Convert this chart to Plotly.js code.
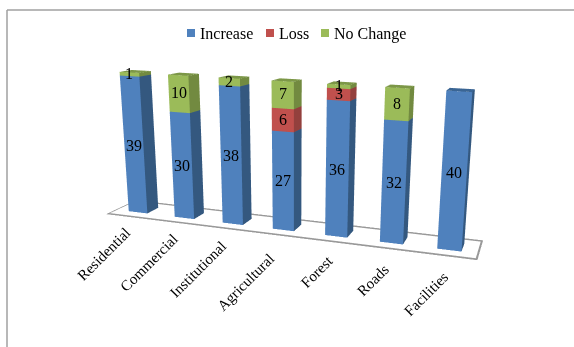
<!DOCTYPE html>
<html>
<head>
<meta charset="utf-8">
<script src="https://cdn.plot.ly/plotly-3.0.1.min.js"></script>
<style>
  html, body { margin: 0; padding: 0; width: 574px; height: 347px; overflow: hidden; background: #fff; }
  #chart { position: absolute; left: 0; top: -102px; width: 700px; height: 551px; }
</style>
</head>
<body>
<div id="chart"></div>
<script>
// Land-use change counts per category
const categories = ["Residential", "Commercial", "Institutional", "Agricultural", "Forest", "Roads", "Facilities"];
const increase = [39, 30, 38, 27, 36, 32, 40];
const loss = [0, 0, 0, 6, 3, 0, 0];
const noChange = [1, 10, 2, 7, 1, 8, 0];

const seriesNames = ["Increase", "Loss", "No Change"];
const frontColors = ["#4F81BD", "#C0504D", "#9BBB59"];
const sideColors = ["#34587F", "#93403D", "#728A40"];
const topColors = ["#3A6594", "#A5443F", "#7C9747"];

// The canvas overflows the window so the 3D view gets a narrow field of view and an off-centre axis
const CANVAS_W = 700, CANVAS_H = 551, CANVAS_TOP = -102;
const py = p => 1 - (p - CANVAS_TOP) / CANVAS_H;
const px = p => p / CANVAS_W;

const BAR_W = 0.41, BAR_D = 0.38;
const X_RANGE = [-0.5, 6.5], Y_RANGE = [-0.3, 0.68], Z_RANGE = [0, 40];
const SCALE = 0.3789;
const aspect = { x: 7 * SCALE, y: 0.98 * SCALE, z: 2.68 * SCALE };
const flatLight = { ambient: 1, diffuse: 0, specular: 0, roughness: 1, fresnel: 0 };

// One mesh per series: a box for every non-zero segment, stacked on the previous series
const stacks = [increase, loss, noChange];
const base = categories.map(() => 0);
const traces = [];
stacks.forEach((vals, s) => {
  const xs = [], ys = [], zs = [], I = [], J = [], K = [], fc = [];
  vals.forEach((v, c) => {
    if (v > 0) {
      const n = xs.length;
      const x0 = c - BAR_W / 2, x1 = c + BAR_W / 2, y0 = 0, y1 = BAR_D, z0 = base[c], z1 = base[c] + v;
      [[x0,y0,z0],[x1,y0,z0],[x1,y1,z0],[x0,y1,z0],[x0,y0,z1],[x1,y0,z1],[x1,y1,z1],[x0,y1,z1]].forEach(p => {
        xs.push(p[0]); ys.push(p[1]); zs.push(p[2]);
      });
      const quad = (a, b, cc, d, col) => {
        I.push(n + a, n + a); J.push(n + b, n + cc); K.push(n + cc, n + d); fc.push(col, col);
      };
      quad(0, 1, 5, 4, frontColors[s]);
      quad(1, 2, 6, 5, sideColors[s]);
      quad(4, 5, 6, 7, topColors[s]);
      base[c] += v;
    }
  });
  traces.push({
    type: "mesh3d", x: xs, y: ys, z: zs, i: I, j: J, k: K, facecolor: fc, flatshading: true,
    lighting: flatLight, hoverinfo: "skip", showlegend: false, showscale: false
  });
});

// Floor outline: four thin strips lying on the floor plane, inset from its edge
(function addFloor() {
  const [xa, xb] = X_RANGE, [ya, yb] = Y_RANGE;
  const tx = 0.035, ty = 0.08;
  const strips = [
    [xa, xb, ya, ya + ty], [xa, xb, yb - ty, yb],
    [xa, xa + tx, ya, yb], [xb - tx, xb, ya, yb]
  ];
  const xs = [], ys = [], zs = [], I = [], J = [], K = [], fc = [];
  strips.forEach(([x0, x1, y0, y1]) => {
    const n = xs.length;
    xs.push(x0, x1, x1, x0); ys.push(y0, y0, y1, y1); zs.push(0, 0, 0, 0);
    I.push(n, n); J.push(n + 1, n + 2); K.push(n + 2, n + 3); fc.push("#999999", "#999999");
  });
  traces.push({
    type: "mesh3d", x: xs, y: ys, z: zs, i: I, j: J, k: K, facecolor: fc, flatshading: true,
    lighting: flatLight, hoverinfo: "skip", showlegend: false, showscale: false
  });
})();

const serif = "'Liberation Serif', 'Times New Roman', serif";
const annotations = [];

// Value labels in the middle of each segment's front face
stacks.forEach((vals, s) => {
  vals.forEach((v, c) => {
    if (v > 0) {
      const below = stacks.slice(0, s).reduce((a, arr) => a + arr[c], 0);
      annotations.push({
        x: c, y: 0, z: below + v / 2, text: String(v), showarrow: false, yshift: 1,
        font: { family: serif, size: 16, color: "#000" }
      });
    }
  });
});

// Category labels, rotated and right-aligned towards the floor's front edge
const labelDrop = [0, 0, 0, 5, 0, 0, 0];
const labelSlide = [0, 0, 0, -4, 0, 0, 0];
const ctx = document.createElement("canvas").getContext("2d");
ctx.font = "15px 'Liberation Serif'";
categories.forEach((name, c) => {
  const half = ctx.measureText(name).width / 2 * Math.SQRT1_2;
  annotations.push({
    x: c, y: Y_RANGE[0], z: 0, text: name, showarrow: false, textangle: -45,
    xshift: -half - 1 + labelSlide[c], yshift: -half - 13 - 0.9 * c - labelDrop[c],
    font: { family: serif, size: 15, color: "#000" }
  });
});

// Legend row above the chart
const legendSwatchX = [187, 266, 321];
const legendShapes = seriesNames.map((name, s) => ({
  type: "rect", xref: "paper", yref: "paper", line: { width: 0 }, fillcolor: frontColors[s],
  x0: px(legendSwatchX[s]), x1: px(legendSwatchX[s] + 8), y0: py(29), y1: py(37)
}));
const legendLabels = seriesNames.map((name, s) => ({
  xref: "paper", yref: "paper", x: px(legendSwatchX[s] + 11), y: py(33.5), text: name,
  xanchor: "left", yanchor: "middle", showarrow: false,
  font: { family: serif, size: 16, color: "#000" }
}));

const hidden = { visible: false, showgrid: false, zeroline: false, showticklabels: false };
const layout = {
  width: CANVAS_W, height: CANVAS_H,
  margin: { l: 0, r: 0, t: 0, b: 0 },
  paper_bgcolor: "#ffffff",
  font: { family: serif, color: "#000" },
  showlegend: false,
  annotations: legendLabels,
  scene: {
    domain: { x: [0, 1], y: [0, 1] },
    aspectmode: "manual", aspectratio: aspect,
    xaxis: Object.assign({ range: X_RANGE }, hidden),
    yaxis: Object.assign({ range: Y_RANGE }, hidden),
    zaxis: Object.assign({ range: Z_RANGE }, hidden),
    camera: {
      eye: { x: 1.6168, y: -4.0858, z: 1.0234 },
      center: { x: 0.4193, y: 0.0907, z: -0.1086 },
      up: { x: -0.0906, y: 0.2362, z: 0.9677 },
      projection: { type: "perspective" }
    },
    annotations
  },
  // Sheet edge along the top and left, plus the legend swatches
  shapes: [
    { type: "line", xref: "paper", yref: "paper", x0: px(7), x1: px(7), y0: py(10), y1: py(347), line: { color: "#a0a0a0", width: 1.5 } },
    { type: "line", xref: "paper", yref: "paper", x0: px(7), x1: 1, y0: py(10), y1: py(10), line: { color: "#a0a0a0", width: 1.5 } }
  ].concat(legendShapes)
};

Plotly.newPlot("chart", traces, layout, { displayModeBar: false });
</script>
</body>
</html>
